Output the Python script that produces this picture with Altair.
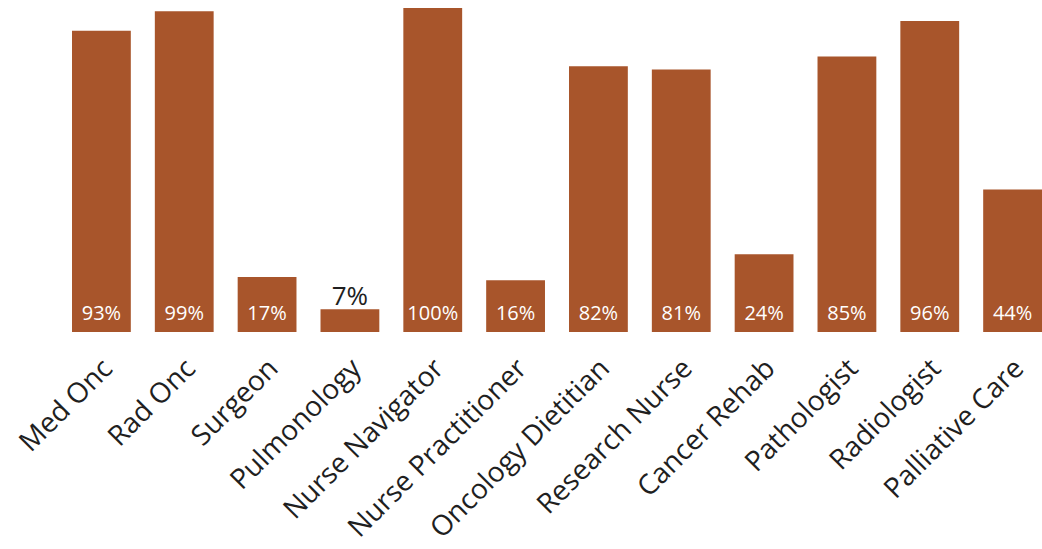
import altair as alt
import pandas as pd

roles = ["Med Onc", "Rad Onc", "Surgeon", "Pulmonology", "Nurse Navigator",
         "Nurse Practitioner", "Oncology Dietitian", "Research Nurse",
         "Cancer Rehab", "Pathologist", "Radiologist", "Palliative Care"]
shares = [93, 99, 17, 7, 100, 16, 82, 81, 24, 85, 96, 44]

df = pd.DataFrame({"role": roles, "share": shares})
df["label"] = df["share"].astype(str) + "%"
df["base"] = 0

FONT = "Open Sans"
BAR = "#A8552B"

x = alt.X("role:N", sort=roles, title=None,
          scale=alt.Scale(paddingInner=0.29, paddingOuter=0),
          axis=alt.Axis(labelAngle=-45, labelAlign="right", labelBaseline="middle",
                        labelFontSize=28, labelFont=FONT, labelColor="#1f1f1f",
                        labelPadding=32, labelOffset=7, domain=False, ticks=False,
                        labelOverlap=False, labelLimit=400))
yscale = alt.Scale(domain=[0, 100])

base = alt.Chart(df)

bars = base.mark_bar(color=BAR).encode(
    x=x, y=alt.Y("share:Q", scale=yscale, axis=None, title=None))

inside = base.transform_filter("datum.share >= 10").mark_text(
    color="white", font=FONT, fontSize=20, baseline="alphabetic", dy=-12
).encode(x=x, y=alt.Y("base:Q", scale=yscale, axis=None), text="label:N")

outside = base.transform_filter("datum.share < 10").mark_text(
    color="#1f1f1f", font=FONT, fontSize=26, baseline="alphabetic", dy=-4
).encode(x=x, y=alt.Y("share:Q", scale=yscale, axis=None), text="label:N")

chart = alt.layer(bars, inside, outside).properties(
    width=970, height=324,
    autosize=alt.AutoSizeParams(type="none"),
    padding={"left": 72, "top": 8, "right": 0, "bottom": 217},
    background="white",
).configure_view(stroke=None)

chart.save("out.html", embed_options={"renderer": "svg", "actions": False})
